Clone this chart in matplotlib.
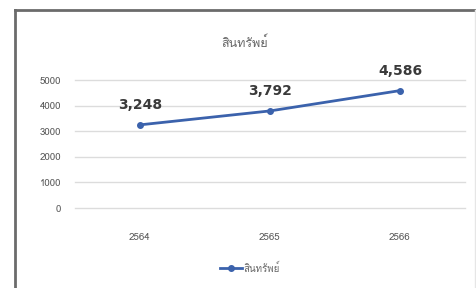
import matplotlib
matplotlib.use("Agg")
import matplotlib.pyplot as plt
from matplotlib import font_manager
from matplotlib.lines import Line2D
from matplotlib.ft2font import FT2Font

years = ["2564", "2565", "2566"]
values = [3248, 3792, 4586]
series_name = "สินทรัพย์"
yticks = [0, 1000, 2000, 3000, 4000, 5000]

# find a font with Thai glyphs
thai_font = None
for fe in font_manager.fontManager.ttflist:
    try:
        f = FT2Font(fe.fname)
        if 0x0E2A in f.get_charmap():
            thai_font = fe.name
            break
    except Exception:
        pass
fams = ([thai_font] if thai_font else []) + ["DejaVu Sans"]
plt.rcParams['font.family'] = fams

W, H = 477, 288
fig = plt.figure(figsize=(W / 100, H / 100), dpi=100)
ax = fig.add_axes([75 / W, 1 - 208 / H, 390 / W, (208 - 80) / H])

x = list(range(len(years)))
line_color = "#3B62AC"
ax.plot(x, values, color=line_color, lw=2, marker="o", ms=4, label=series_name, clip_on=False)
for xi, v in zip(x, values):
    ax.annotate(f"{v:,}", (xi, v), xytext=(0, 9), textcoords="offset points",
                fontsize=10, fontweight="bold", color="#3a3a3a", ha="center", va="bottom",
                family=["DejaVu Sans"])

ax.set_xlim(-0.5, 2.5)
ax.set_ylim(0, 5000)
ax.set_yticks(yticks)
ax.set_yticklabels([str(t) for t in yticks], fontsize=7, color="#595959")
ax.set_xticks(x)
ax.set_xticklabels(years, fontsize=7, color="#595959")
ax.tick_params(length=0, pad=10)
ax.tick_params(axis="x", pad=18)
for t in yticks:
    ax.axhline(t, color="#dcdcdc", lw=1, clip_on=False, zorder=0)
for s in ax.spines.values():
    s.set_visible(False)

fig.text(245 / W, 1 - 43 / H, series_name, ha="center", va="center", fontsize=9, color="#666666")

leg_handle = Line2D([], [], color=line_color, lw=2, marker="o", ms=4)
fig.legend([leg_handle], [series_name], loc="center", bbox_to_anchor=(250 / W, 1 - 268 / H),
           frameon=False, fontsize=7, labelcolor="#666666", handlelength=2.2, handletextpad=0.2)

# outer frame
fig.add_artist(Line2D([15 / W, 15 / W], [0, 1 - 10 / H], transform=fig.transFigure, color="#6b6b6b", lw=2))
fig.add_artist(Line2D([15 / W, 1], [1 - 10 / H, 1 - 10 / H], transform=fig.transFigure, color="#6b6b6b", lw=2))
fig.add_artist(Line2D([475.5 / W, 475.5 / W], [0, 1 - 10 / H], transform=fig.transFigure, color="#e6e6e6", lw=1))

fig.savefig("out.png", dpi=100)
